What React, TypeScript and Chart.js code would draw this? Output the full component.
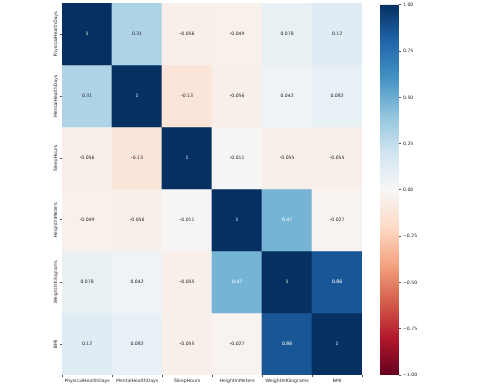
import React, { useEffect, useRef } from "react";
import { Chart, registerables } from "chart.js";

Chart.register(...registerables);

const variables = [
  "PhysicalHealthDays",
  "MentalHealthDays",
  "SleepHours",
  "HeightInMeters",
  "WeightInKilograms",
  "BMI",
];
const rowPhysical = [1, 0.31, -0.056, -0.049, 0.078, 0.12];
const rowMental = [0.31, 1, -0.13, -0.056, 0.042, 0.082];
const rowSleep = [-0.056, -0.13, 1, -0.011, -0.055, -0.055];
const rowHeight = [-0.049, -0.056, -0.011, 1, 0.47, -0.027];
const rowWeight = [0.078, 0.042, -0.055, 0.47, 1, 0.86];
const rowBMI = [0.12, 0.082, -0.055, -0.027, 0.86, 1];
const matrix = [rowPhysical, rowMental, rowSleep, rowHeight, rowWeight, rowBMI];

const vmin = -1;
const vmax = 1;
const colorbarStep = 0.25;

const RDBU = [
  "#67001f", "#b2182b", "#d6604d", "#f4a582", "#fddbc7", "#f7f7f7",
  "#d1e5f0", "#92c5de", "#4393c3", "#2166ac", "#053061",
];

const FONT = "'DejaVu Sans', sans-serif";
const TEXT = "#262626";

function hexToRgb(h: string) {
  return [parseInt(h.slice(1, 3), 16), parseInt(h.slice(3, 5), 16), parseInt(h.slice(5, 7), 16)];
}
function colorRgb(v: number) {
  let t = (v - vmin) / (vmax - vmin);
  t = Math.max(0, Math.min(1, t));
  const pos = t * (RDBU.length - 1);
  const i = Math.min(RDBU.length - 2, Math.floor(pos));
  const f = pos - i;
  const a = hexToRgb(RDBU[i]);
  const b = hexToRgb(RDBU[i + 1]);
  return a.map((x, k) => Math.round(x + (b[k] - x) * f));
}
function colorFor(v: number) {
  const c = colorRgb(v);
  return `rgb(${c[0]},${c[1]},${c[2]})`;
}
function textColorFor(v: number) {
  const c = colorRgb(v).map((x) => {
    const s = x / 255;
    return s <= 0.03928 ? s / 12.92 : Math.pow((s + 0.055) / 1.055, 2.4);
  });
  const lum = 0.2126 * c[0] + 0.7152 * c[1] + 0.0722 * c[2];
  return lum > 0.45 ? TEXT : "#ffffff";
}
function fmt(v: number) {
  return String(Number(v.toPrecision(2)));
}

export default function App() {
  const mainRef = useRef<HTMLCanvasElement>(null);
  const cbRef = useRef<HTMLCanvasElement>(null);

  useEffect(() => {
    document.body.style.margin = "0";
    const n = variables.length;

    const annotate = {
      id: "annotate",
      afterDatasetsDraw(chart: any) {
        const ctx = chart.ctx;
        ctx.save();
        ctx.font = `4.6px ${FONT}`;
        ctx.textAlign = "center";
        ctx.textBaseline = "middle";
        matrix.forEach((row, r) => {
          const meta = chart.getDatasetMeta(r);
          meta.data.forEach((el: any, c: number) => {
            ctx.fillStyle = textColorFor(row[c]);
            ctx.fillText(fmt(row[c]), el.x, (el.y + el.base) / 2);
          });
        });
        ctx.restore();
      },
      afterDraw(chart: any) {
        const ctx = chart.ctx;
        const ys = chart.scales.y;
        ctx.save();
        ctx.font = `4.6px ${FONT}`;
        ctx.fillStyle = TEXT;
        ctx.textAlign = "center";
        ctx.textBaseline = "middle";
        variables.forEach((name, r) => {
          const y = ys.getPixelForValue(n - r - 0.5);
          ctx.save();
          ctx.translate(ys.right - 6, y);
          ctx.rotate(-Math.PI / 2);
          ctx.fillText(name, 0, 0);
          ctx.restore();
        });
        ctx.restore();
      },
    };

    const main = new Chart(mainRef.current!, {
      type: "bar",
      data: {
        labels: variables,
        datasets: matrix.map((row, r) => ({
          label: variables[r],
          data: row.map(() => [n - 1 - r, n - r] as [number, number]),
          backgroundColor: row.map(colorFor),
          borderWidth: 0,
          borderSkipped: false,
          grouped: false,
          barPercentage: 1,
          categoryPercentage: 1,
        })),
      },
      options: {
        animation: false,
        responsive: false,
        devicePixelRatio: 1,
        layout: { padding: { left: 0, top: 3, right: 8, bottom: 0 } },
        plugins: { legend: { display: false }, tooltip: { enabled: false } },
        scales: {
          x: {
            type: "category",
            offset: true,
            grid: { display: true, drawOnChartArea: false, drawTicks: true, tickLength: 2, color: "#555" },
            border: { display: false },
            ticks: { font: { size: 4.6, family: FONT }, color: TEXT, padding: 1, maxRotation: 0, autoSkip: false },
            afterFit: (s: any) => { s.height = 13; },
          },
          y: {
            type: "linear",
            min: 0,
            max: n,
            grid: { display: true, drawOnChartArea: false, drawTicks: true, tickLength: 2, color: "#555" },
            border: { display: false },
            ticks: { display: false },
            afterBuildTicks: (s: any) => {
              s.ticks = variables.map((_, i) => ({ value: i + 0.5 }));
            },
            afterFit: (s: any) => { s.width = 62; },
          },
        },
      },
      plugins: [annotate],
    } as any);

    const cb = new Chart(cbRef.current!, {
      type: "bar",
      data: {
        labels: [""],
        datasets: [
          {
            data: [[vmin, vmax] as [number, number]],
            backgroundColor: (c: any) => {
              const area = c.chart.chartArea;
              if (!area) return RDBU[5];
              const g = c.chart.ctx.createLinearGradient(0, area.bottom, 0, area.top);
              RDBU.forEach((col, i) => g.addColorStop(i / (RDBU.length - 1), col));
              return g;
            },
            borderWidth: 0,
            borderSkipped: false,
            barPercentage: 1,
            categoryPercentage: 1,
          },
        ],
      },
      options: {
        animation: false,
        responsive: false,
        devicePixelRatio: 1,
        layout: { padding: { left: 10, top: 3, right: 0, bottom: 13 } },
        plugins: { legend: { display: false }, tooltip: { enabled: false } },
        scales: {
          x: { display: false },
          y: {
            type: "linear",
            position: "right",
            min: vmin,
            max: vmax,
            grid: { display: true, drawOnChartArea: false, drawTicks: true, tickLength: 2, color: "#555" },
            border: { display: false },
            ticks: {
              stepSize: colorbarStep,
              font: { size: 4.6, family: FONT },
              color: TEXT,
              padding: 2,
              callback: (v: any) => Number(v).toFixed(2).replace("-", "\u2212"),
            },
            afterFit: (s: any) => { s.width = 82; },
          },
        },
      },
    } as any);

    return () => {
      main.destroy();
      cb.destroy();
    };
  }, []);

  return (
    <div style={{ position: "relative", width: 481, height: 388, background: "#fff" }}>
      <canvas ref={mainRef} width={370} height={388} style={{ position: "absolute", left: 0, top: 0 }} />
      <canvas ref={cbRef} width={111} height={388} style={{ position: "absolute", left: 370, top: 0 }} />
    </div>
  );
}
